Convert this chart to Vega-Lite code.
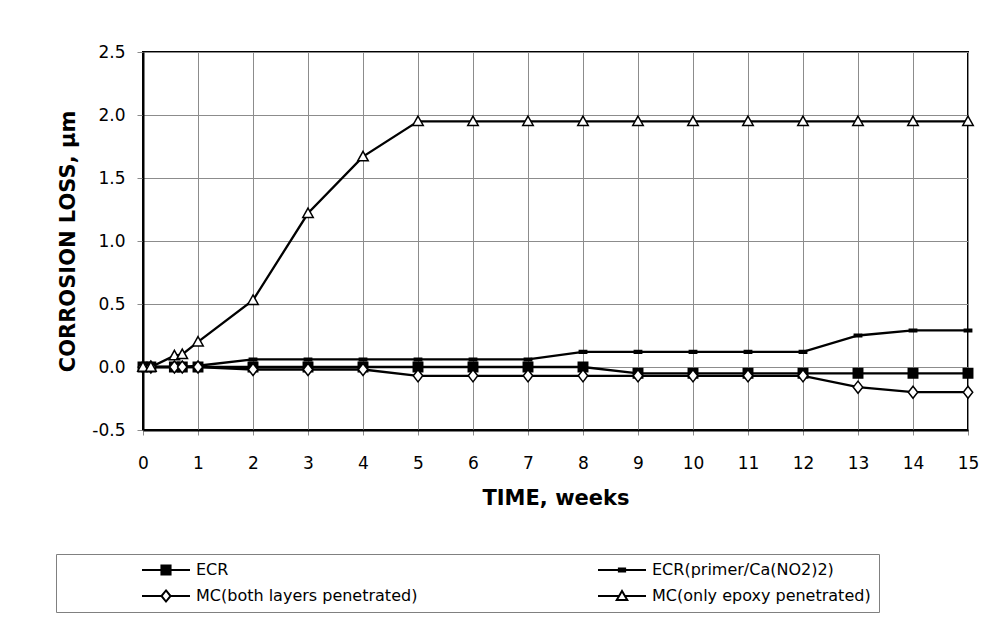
{
  "$schema": "https://vega.github.io/schema/vega-lite/v6.json",
  "width": 825,
  "height": 378,
  "autosize": {"type": "none"},
  "padding": {"left": 143, "top": 52, "right": 34, "bottom": 198},
  "background": "white",
  "config": {
    "font": "DejaVu Sans",
    "view": {"stroke": "black", "strokeWidth": 2},
    "axis": {
      "labelFont": "DejaVu Sans",
      "labelFontSize": 17,
      "labelColor": "black",
      "titleFont": "DejaVu Sans",
      "titleFontSize": 21,
      "titleFontWeight": "bold",
      "titleColor": "black",
      "gridColor": "#8c8c8c",
      "gridWidth": 1,
      "gridOpacity": 1,
      "domainColor": "black",
      "domainWidth": 2,
      "tickColor": "#8c8c8c",
      "tickWidth": 1
    },
    "legend": {
      "orient": "none",
      "legendX": -87,
      "legendY": 502,
      "columns": 2,
      "columnPadding": 179,
      "rowPadding": 10,
      "padding": 8,
      "strokeColor": "#808080",
      "fillColor": "white",
      "titleOrient": "left",
      "titlePadding": 77,
      "titleFontSize": 16,
      "clipHeight": 16,
      "labelFont": "DejaVu Sans",
      "labelFontSize": 16,
      "labelColor": "black",
      "labelLimit": 600,
      "labelOffset": 5,
      "symbolSize": 2304,
      "symbolStrokeWidth": 2,
      "symbolOpacity": 1
    }
  },
  "datasets": {
    "loss": [
      {"series": "ECR", "t": 0, "v": 0},
      {"series": "ECR", "t": 0.143, "v": 0},
      {"series": "ECR", "t": 0.571, "v": 0},
      {"series": "ECR", "t": 0.714, "v": 0},
      {"series": "ECR", "t": 1, "v": 0},
      {"series": "ECR", "t": 2, "v": 0},
      {"series": "ECR", "t": 3, "v": 0},
      {"series": "ECR", "t": 4, "v": 0},
      {"series": "ECR", "t": 5, "v": 0},
      {"series": "ECR", "t": 6, "v": 0},
      {"series": "ECR", "t": 7, "v": 0},
      {"series": "ECR", "t": 8, "v": 0},
      {"series": "ECR", "t": 9, "v": -0.05},
      {"series": "ECR", "t": 10, "v": -0.05},
      {"series": "ECR", "t": 11, "v": -0.05},
      {"series": "ECR", "t": 12, "v": -0.05},
      {"series": "ECR", "t": 13, "v": -0.05},
      {"series": "ECR", "t": 14, "v": -0.05},
      {"series": "ECR", "t": 15, "v": -0.05},
      {"series": "ECR(primer/Ca(NO2)2)", "t": 0, "v": 0},
      {"series": "ECR(primer/Ca(NO2)2)", "t": 0.143, "v": 0},
      {"series": "ECR(primer/Ca(NO2)2)", "t": 0.571, "v": 0},
      {"series": "ECR(primer/Ca(NO2)2)", "t": 0.714, "v": 0},
      {"series": "ECR(primer/Ca(NO2)2)", "t": 1, "v": 0.01},
      {"series": "ECR(primer/Ca(NO2)2)", "t": 2, "v": 0.06},
      {"series": "ECR(primer/Ca(NO2)2)", "t": 3, "v": 0.06},
      {"series": "ECR(primer/Ca(NO2)2)", "t": 4, "v": 0.06},
      {"series": "ECR(primer/Ca(NO2)2)", "t": 5, "v": 0.06},
      {"series": "ECR(primer/Ca(NO2)2)", "t": 6, "v": 0.06},
      {"series": "ECR(primer/Ca(NO2)2)", "t": 7, "v": 0.06},
      {"series": "ECR(primer/Ca(NO2)2)", "t": 8, "v": 0.12},
      {"series": "ECR(primer/Ca(NO2)2)", "t": 9, "v": 0.12},
      {"series": "ECR(primer/Ca(NO2)2)", "t": 10, "v": 0.12},
      {"series": "ECR(primer/Ca(NO2)2)", "t": 11, "v": 0.12},
      {"series": "ECR(primer/Ca(NO2)2)", "t": 12, "v": 0.12},
      {"series": "ECR(primer/Ca(NO2)2)", "t": 13, "v": 0.25},
      {"series": "ECR(primer/Ca(NO2)2)", "t": 14, "v": 0.29},
      {"series": "ECR(primer/Ca(NO2)2)", "t": 15, "v": 0.29},
      {"series": "MC(both layers penetrated)", "t": 0, "v": 0},
      {"series": "MC(both layers penetrated)", "t": 0.143, "v": 0},
      {"series": "MC(both layers penetrated)", "t": 0.571, "v": 0},
      {"series": "MC(both layers penetrated)", "t": 0.714, "v": 0},
      {"series": "MC(both layers penetrated)", "t": 1, "v": 0},
      {"series": "MC(both layers penetrated)", "t": 2, "v": -0.02},
      {"series": "MC(both layers penetrated)", "t": 3, "v": -0.02},
      {"series": "MC(both layers penetrated)", "t": 4, "v": -0.02},
      {"series": "MC(both layers penetrated)", "t": 5, "v": -0.07},
      {"series": "MC(both layers penetrated)", "t": 6, "v": -0.07},
      {"series": "MC(both layers penetrated)", "t": 7, "v": -0.07},
      {"series": "MC(both layers penetrated)", "t": 8, "v": -0.07},
      {"series": "MC(both layers penetrated)", "t": 9, "v": -0.07},
      {"series": "MC(both layers penetrated)", "t": 10, "v": -0.07},
      {"series": "MC(both layers penetrated)", "t": 11, "v": -0.07},
      {"series": "MC(both layers penetrated)", "t": 12, "v": -0.07},
      {"series": "MC(both layers penetrated)", "t": 13, "v": -0.16},
      {"series": "MC(both layers penetrated)", "t": 14, "v": -0.2},
      {"series": "MC(both layers penetrated)", "t": 15, "v": -0.2},
      {"series": "MC(only epoxy penetrated)", "t": 0, "v": 0},
      {"series": "MC(only epoxy penetrated)", "t": 0.143, "v": 0},
      {"series": "MC(only epoxy penetrated)", "t": 0.571, "v": 0.09},
      {"series": "MC(only epoxy penetrated)", "t": 0.714, "v": 0.1},
      {"series": "MC(only epoxy penetrated)", "t": 1, "v": 0.2},
      {"series": "MC(only epoxy penetrated)", "t": 2, "v": 0.53},
      {"series": "MC(only epoxy penetrated)", "t": 3, "v": 1.22},
      {"series": "MC(only epoxy penetrated)", "t": 4, "v": 1.67},
      {"series": "MC(only epoxy penetrated)", "t": 5, "v": 1.95},
      {"series": "MC(only epoxy penetrated)", "t": 6, "v": 1.95},
      {"series": "MC(only epoxy penetrated)", "t": 7, "v": 1.95},
      {"series": "MC(only epoxy penetrated)", "t": 8, "v": 1.95},
      {"series": "MC(only epoxy penetrated)", "t": 9, "v": 1.95},
      {"series": "MC(only epoxy penetrated)", "t": 10, "v": 1.95},
      {"series": "MC(only epoxy penetrated)", "t": 11, "v": 1.95},
      {"series": "MC(only epoxy penetrated)", "t": 12, "v": 1.95},
      {"series": "MC(only epoxy penetrated)", "t": 13, "v": 1.95},
      {"series": "MC(only epoxy penetrated)", "t": 14, "v": 1.95},
      {"series": "MC(only epoxy penetrated)", "t": 15, "v": 1.95}
    ]
  },
  "data": {"name": "loss"},
  "encoding": {
    "x": {
      "field": "t",
      "type": "quantitative",
      "scale": {"domain": [0, 15], "nice": false, "zero": false},
      "axis": {
        "title": "TIME, weeks",
        "values": [0, 1, 2, 3, 4, 5, 6, 7, 8, 9, 10, 11, 12, 13, 14, 15],
        "format": "d",
        "tickSize": 5,
        "labelPadding": 20,
        "titlePadding": 16,
        "labelFlush": false
      }
    },
    "y": {
      "field": "v",
      "type": "quantitative",
      "scale": {"domain": [-0.5, 2.5], "nice": false, "zero": false},
      "axis": {
        "title": "CORROSION LOSS, µm",
        "values": [-0.5, 0, 0.5, 1, 1.5, 2, 2.5],
        "format": ".1f",
        "labelExpr": "replace(datum.label, '\u2212', '-')",
        "tickSize": 6,
        "labelPadding": 12,
        "titlePadding": 13,
        "labelFlush": false
      }
    }
  },
  "resolve": {"scale": {"shape": "independent", "fill": "independent", "stroke": "independent"}},
  "layer": [
    {
      "mark": {"type": "line", "color": "black", "strokeWidth": 2.3, "strokeJoin": "miter"},
      "encoding": {"detail": {"field": "series", "type": "nominal"}}
    },
    {
      "mark": {"type": "point", "filled": true, "opacity": 0, "size": 10},
      "encoding": {
        "shape": {
          "field": "series",
          "type": "nominal",
          "scale": {
            "domain": ["ECR", "MC(both layers penetrated)", "ECR(primer/Ca(NO2)2)", "MC(only epoxy penetrated)"],
            "range": ["M-1,0H1M-0.19,-0.19H0.19V0.19H-0.19Z", "M-1,0H-0.19M0.19,0H1M0,-0.23L0.19,0L0,0.23L-0.19,0Z", "M-1,0H1M-0.13,-0.06H0.13V0.06H-0.13Z", "M-1,0H-0.11M0.11,0H1M0,-0.21L0.22,0.17H-0.22Z"]
          },
          "legend": {"title": " "}
        },
        "fill": {
          "field": "series",
          "type": "nominal",
          "scale": {
            "domain": ["ECR", "MC(both layers penetrated)", "ECR(primer/Ca(NO2)2)", "MC(only epoxy penetrated)"],
            "range": ["black", "white", "black", "white"]
          },
          "legend": {"title": " "}
        },
        "stroke": {
          "field": "series",
          "type": "nominal",
          "scale": {
            "domain": ["ECR", "MC(both layers penetrated)", "ECR(primer/Ca(NO2)2)", "MC(only epoxy penetrated)"],
            "range": ["black", "black", "black", "black"]
          },
          "legend": {"title": " "}
        }
      }
    },
    {
      "mark": {"type": "point", "filled": true, "opacity": 1, "size": 110, "stroke": "black", "strokeWidth": 1.5},
      "encoding": {
        "shape": {
          "field": "series",
          "type": "nominal",
          "scale": {
            "domain": ["ECR", "MC(both layers penetrated)", "ECR(primer/Ca(NO2)2)", "MC(only epoxy penetrated)"],
            "range": ["M-0.9,-0.9H0.9V0.9H-0.9Z", "M0,-1.15L0.9,0L0,1.15L-0.9,0Z", "M-0.7,-0.25H0.7V0.25H-0.7Z", "M0,-1L1,0.8H-1Z"]
          },
          "legend": null
        },
        "fill": {
          "field": "series",
          "type": "nominal",
          "scale": {
            "domain": ["ECR", "MC(both layers penetrated)", "ECR(primer/Ca(NO2)2)", "MC(only epoxy penetrated)"],
            "range": ["black", "white", "black", "white"]
          },
          "legend": null
        }
      }
    }
  ]
}
